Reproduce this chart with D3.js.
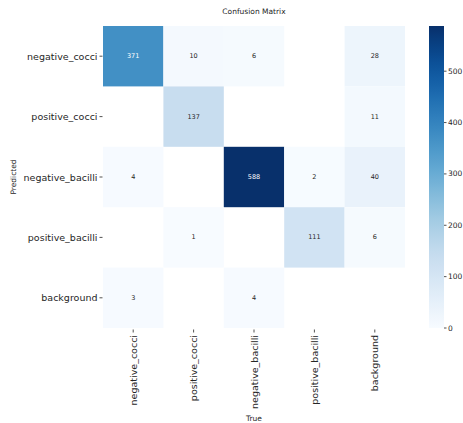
<!DOCTYPE html>
<html>
<head>
<meta charset="utf-8">
<script src="https://cdn.jsdelivr.net/npm/d3@7"></script>
<style>
  html, body { margin: 0; padding: 0; background: #fff; }
  svg { display: block; font-family: "DejaVu Sans", sans-serif; }
</style>
</head>
<body>
<svg id="chart" width="463" height="423"></svg>
<script>
// ---- data ----
const classes = ["negative_cocci", "positive_cocci", "negative_bacilli", "positive_bacilli", "background"];
// rows = Predicted, columns = True (null = empty cell)
const rowNegativeCocci   = [371, 10, 6, null, 28];
const rowPositiveCocci   = [null, 137, null, null, 11];
const rowNegativeBacilli = [4, null, 588, 2, 40];
const rowPositiveBacilli = [null, 1, null, 111, 6];
const rowBackground      = [3, null, 4, null, null];
const matrixRows = [rowNegativeCocci, rowPositiveCocci, rowNegativeBacilli, rowPositiveBacilli, rowBackground];
const colorbarTicks = [0, 100, 200, 300, 400, 500];
const title = "Confusion Matrix";
const xTitle = "True";
const yTitle = "Predicted";

// ---- layout ----
const svg = d3.select("#chart");
const hm = { x0: 103, x1: 405, y0: 26, y1: 328 };
const cb = { x0: 429, x1: 444, y0: 26, y1: 328 };

const cells = [];
matrixRows.forEach((row, r) => row.forEach((v, c) => {
  if (v !== null) cells.push({ pred: classes[r], tru: classes[c], v });
}));
const vmax = d3.max(cells, d => d.v);

const x = d3.scaleBand().domain(classes).range([hm.x0, hm.x1]).padding(0);
const y = d3.scaleBand().domain(classes).range([hm.y0, hm.y1]).padding(0);
const color = d3.scaleSequential(d3.interpolateBlues).domain([0, vmax]);

// cells
svg.append("g").selectAll("rect").data(cells).join("rect")
  .attr("x", d => x(d.tru))
  .attr("y", d => y(d.pred))
  .attr("width", x.bandwidth())
  .attr("height", y.bandwidth())
  .attr("fill", d => color(d.v));

function lum(c) {
  const rgb = d3.rgb(c);
  const f = v => { v /= 255; return v <= 0.03928 ? v / 12.92 : Math.pow((v + 0.055) / 1.055, 2.4); };
  return 0.2126 * f(rgb.r) + 0.7152 * f(rgb.g) + 0.0722 * f(rgb.b);
}

svg.append("g").selectAll("text").data(cells).join("text")
  .attr("x", d => x(d.tru) + x.bandwidth() / 2)
  .attr("y", d => y(d.pred) + y.bandwidth() / 2)
  .attr("text-anchor", "middle")
  .attr("dominant-baseline", "central")
  .attr("font-size", 6.5)
  .attr("fill", d => lum(color(d.v)) > 0.408 ? "#262626" : "#ffffff")
  .text(d => d.v);

// y axis
const yAxis = svg.append("g");
classes.forEach(cl => {
  const cy = y(cl) + y.bandwidth() / 2;
  yAxis.append("line").attr("x1", 99.5).attr("x2", 102.5).attr("y1", cy).attr("y2", cy)
    .attr("stroke", "#262626").attr("stroke-width", 0.8);
  yAxis.append("text").attr("x", 97.5).attr("y", cy)
    .attr("text-anchor", "end").attr("dominant-baseline", "central")
    .attr("font-size", 9.5).attr("fill", "#262626").text(cl);
});

// x axis
const xAxis = svg.append("g");
classes.forEach(cl => {
  const cx = x(cl) + x.bandwidth() / 2;
  xAxis.append("line").attr("x1", cx).attr("x2", cx).attr("y1", 329.5).attr("y2", 332.5)
    .attr("stroke", "#262626").attr("stroke-width", 0.8);
  xAxis.append("text")
    .attr("transform", `translate(${cx},335) rotate(-90)`)
    .attr("text-anchor", "end").attr("dominant-baseline", "central")
    .attr("font-size", 9.5).attr("fill", "#262626").text(cl);
});

// titles
svg.append("text").attr("x", 254).attr("y", 13.5).attr("text-anchor", "middle")
  .attr("font-size", 7.5).attr("fill", "#262626").text(title);
svg.append("text").attr("x", 254).attr("y", 421).attr("text-anchor", "middle")
  .attr("font-size", 7.5).attr("fill", "#262626").text(xTitle);
svg.append("text").attr("transform", "translate(15.5,177) rotate(-90)").attr("text-anchor", "middle")
  .attr("font-size", 7.5).attr("fill", "#262626").text(yTitle);

// colorbar
const cbScale = d3.scaleLinear().domain([0, vmax]).range([cb.y1, cb.y0]);
const defs = svg.append("defs");
const grad = defs.append("linearGradient").attr("id", "cbgrad")
  .attr("x1", 0).attr("y1", 1).attr("x2", 0).attr("y2", 0);
d3.range(0, 1.0001, 0.02).forEach(t => {
  grad.append("stop").attr("offset", t).attr("stop-color", color(t * vmax));
});
svg.append("rect").attr("x", cb.x0).attr("y", cb.y0)
  .attr("width", cb.x1 - cb.x0).attr("height", cb.y1 - cb.y0)
  .attr("fill", "url(#cbgrad)");

const cbAxis = svg.append("g");
colorbarTicks.forEach(t => {
  const ty = cbScale(t);
  cbAxis.append("line").attr("x1", cb.x1).attr("x2", cb.x1 + 2.5).attr("y1", ty).attr("y2", ty)
    .attr("stroke", "#262626").attr("stroke-width", 0.8);
  cbAxis.append("text").attr("x", cb.x1 + 4).attr("y", ty)
    .attr("dominant-baseline", "central").attr("font-size", 7.5).attr("fill", "#262626").text(t);
});
</script>
</body>
</html>
